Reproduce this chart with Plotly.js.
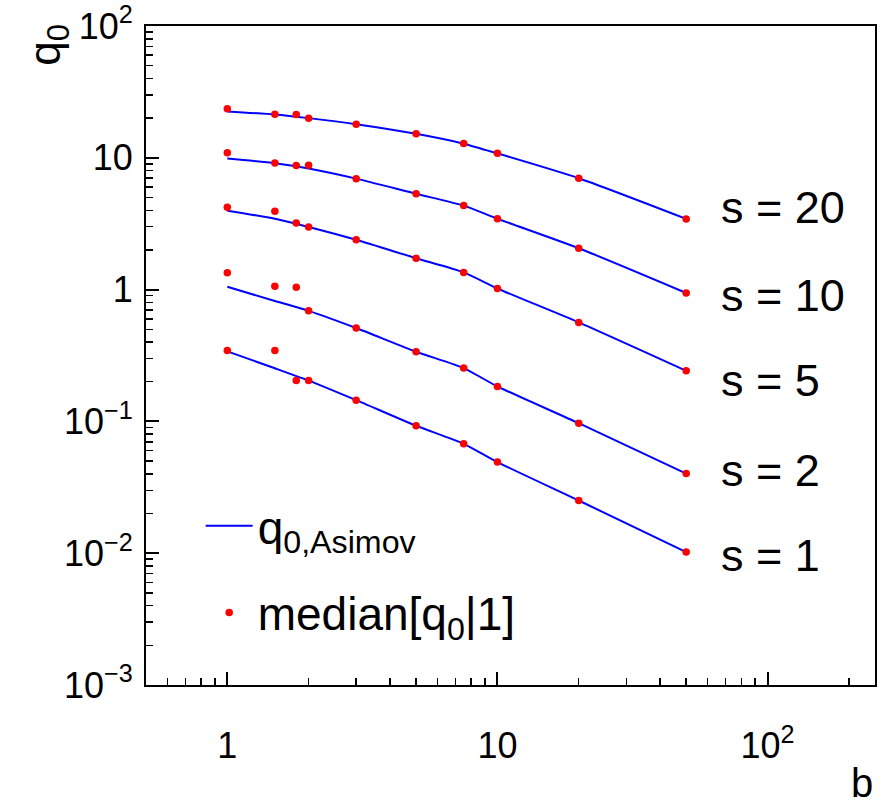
<!DOCTYPE html>
<html>
<head>
<meta charset="utf-8">
<script src="https://cdn.plot.ly/plotly-3.0.1.min.js"></script>
<style>html,body{margin:0;padding:0;background:#fff;}#chart{width:887px;height:808px;}</style>
</head>
<body>
<div id="chart"></div>
<script>
// b values of the median points
const bPoints = [1, 1.5, 1.8, 2, 3, 5, 7.5, 10, 20, 50];
// b values where the Asimov curve was read
const bCurve = [1, 1.5, 2, 3, 5, 7.5, 10, 20, 50];

// median[q0|1] (red dots)
const median_s20 = [23.6, 21.4, 21.3, 19.95, 17.97, 15.19, 12.82, 10.82, 6.99, 3.44];
const median_s10 = [10.9, 9.15, 8.73, 8.77, 6.95, 5.33, 4.34, 3.45, 2.06, 0.943];
const median_s5  = [4.21, 3.93, 3.20, 2.99, 2.39, 1.73, 1.35, 1.02, 0.564, 0.242];
const median_s2  = [1.34, 1.06, 1.04, 0.692, 0.511, 0.338, 0.254, 0.184, 0.097, 0.0402];
const median_s1  = [0.345, 0.345, 0.204, 0.204, 0.145, 0.0926, 0.0676, 0.0491, 0.0251, 0.0102];

// q0,Asimov (blue curves)
const asimov_s20 = [22.5, 21.3, 20.0, 18.0, 15.2, 12.8, 10.8, 7.0, 3.44];
const asimov_s10 = [9.86, 9.1, 8.3, 6.95, 5.33, 4.34, 3.45, 2.06, 0.943];
const asimov_s5  = [3.97, 3.45, 2.99, 2.39, 1.73, 1.35, 1.02, 0.564, 0.242];
const asimov_s2  = [1.05, 0.82, 0.69, 0.511, 0.338, 0.254, 0.184, 0.097, 0.0402];
const asimov_s1  = [0.34, 0.253, 0.204, 0.145, 0.0926, 0.0676, 0.0491, 0.0251, 0.0102];

const sLabels = ["s = 20", "s = 10", "s = 5", "s = 2", "s = 1"];
const sLabelY = [0.725, 0.591, 0.462, 0.326, 0.197];

const xTickVals = [1, 10, 100];
const xTickText = ["1", "10", "10<sup>2</sup>"];
const yTickVals = [0.001, 0.01, 0.1, 1, 10, 100];
const yTickText = ["10<sup>\u22123</sup>", "10<sup>\u22122</sup>", "10<sup>\u22121</sup>", "1", "10", "10<sup>2</sup>"];

function minorTicks(d0, d1, extra) {
  const out = [];
  for (let d = d0; d <= d1; d++) for (let k = 2; k <= 9; k++) out.push(k * Math.pow(10, d));
  return out.concat(extra || []);
}
const xMinor = minorTicks(-1, 1, [200]).filter(v => v >= 0.5 && v <= 250);
const yMinor = minorTicks(-3, 1);

const asimovSets = [asimov_s20, asimov_s10, asimov_s5, asimov_s2, asimov_s1];
const medianSets = [median_s20, median_s10, median_s5, median_s2, median_s1];

const FONT = "Liberation Sans, Arial, Helvetica, sans-serif";
const traces = [];
asimovSets.forEach((ys, i) => traces.push({
  x: bCurve, y: ys, type: "scatter", mode: "lines",
  line: {color: "#0000ff", width: 2, shape: "spline", smoothing: 0.6},
  name: "q<sub>0,Asimov</sub>", legendgroup: "asimov", showlegend: i === 0, hoverinfo: "skip"
}));
medianSets.forEach((ys, i) => traces.push({
  x: bPoints, y: ys, type: "scatter", mode: "markers",
  marker: {color: "#ff0000", size: 7.5},
  name: "median[q<sub>0</sub>|1]", legendgroup: "median", showlegend: i === 0, hoverinfo: "skip"
}));

const annotations = sLabels.map((t, i) => ({
  text: t, xref: "paper", yref: "paper", x: 0.786, y: sLabelY[i],
  xanchor: "left", yanchor: "middle", showarrow: false,
  font: {family: FONT, size: 45, color: "#000"}
}));
// y-axis title at the top of the axis (ROOT style)
annotations.push({
  text: "q<sub>0</sub>", textangle: -90, xref: "paper", yref: "paper",
  x: -0.134, y: 0.972, xanchor: "center", yanchor: "middle", showarrow: false,
  font: {family: FONT, size: 44, color: "#000"}
});
// x-axis title at the right end of the axis
annotations.push({
  text: "b", xref: "paper", yref: "paper", x: 1.0, y: -0.148,
  xanchor: "right", yanchor: "middle", showarrow: false,
  font: {family: FONT, size: 40, color: "#000"}
});

const axisCommon = {
  type: "log", showgrid: false, zeroline: false,
  showline: true, linecolor: "#000", linewidth: 2, mirror: true,
  ticks: "inside", ticklen: 13, tickwidth: 2, tickcolor: "#000",
  tickmode: "array", tickfont: {family: FONT, size: 36, color: "#000"}
};

const layout = {
  width: 887, height: 808,
  margin: {l: 146, r: 12, t: 26, b: 123},
  paper_bgcolor: "#fff", plot_bgcolor: "#fff",
  font: {family: FONT, color: "#000"},
  xaxis: Object.assign({}, axisCommon, {
    range: [Math.log10(0.5), Math.log10(250)],
    tickvals: xTickVals, ticktext: xTickText, ticklabelstandoff: 28,
    minor: {tickmode: "array", tickvals: xMinor, ticks: "inside", ticklen: 7, tickwidth: 1.5, tickcolor: "#000", showgrid: false}
  }),
  yaxis: Object.assign({}, axisCommon, {
    range: [-3, 2],
    tickvals: yTickVals, ticktext: yTickText, ticklabelstandoff: 4,
    minor: {tickmode: "array", tickvals: yMinor, ticks: "inside", ticklen: 7, tickwidth: 1.5, tickcolor: "#000", showgrid: false}
  }),
  showlegend: true,
  legend: {
    x: 0.075, y: 0.297, xanchor: "left", yanchor: "top",
    bgcolor: "rgba(0,0,0,0)", borderwidth: 0,
    font: {family: FONT, size: 46, color: "#000"},
    itemwidth: 47, traceorder: "grouped", tracegroupgap: 24
  },
  annotations: annotations
};

Plotly.newPlot("chart", traces, layout, {staticPlot: true, displayModeBar: false});
</script>
</body>
</html>
